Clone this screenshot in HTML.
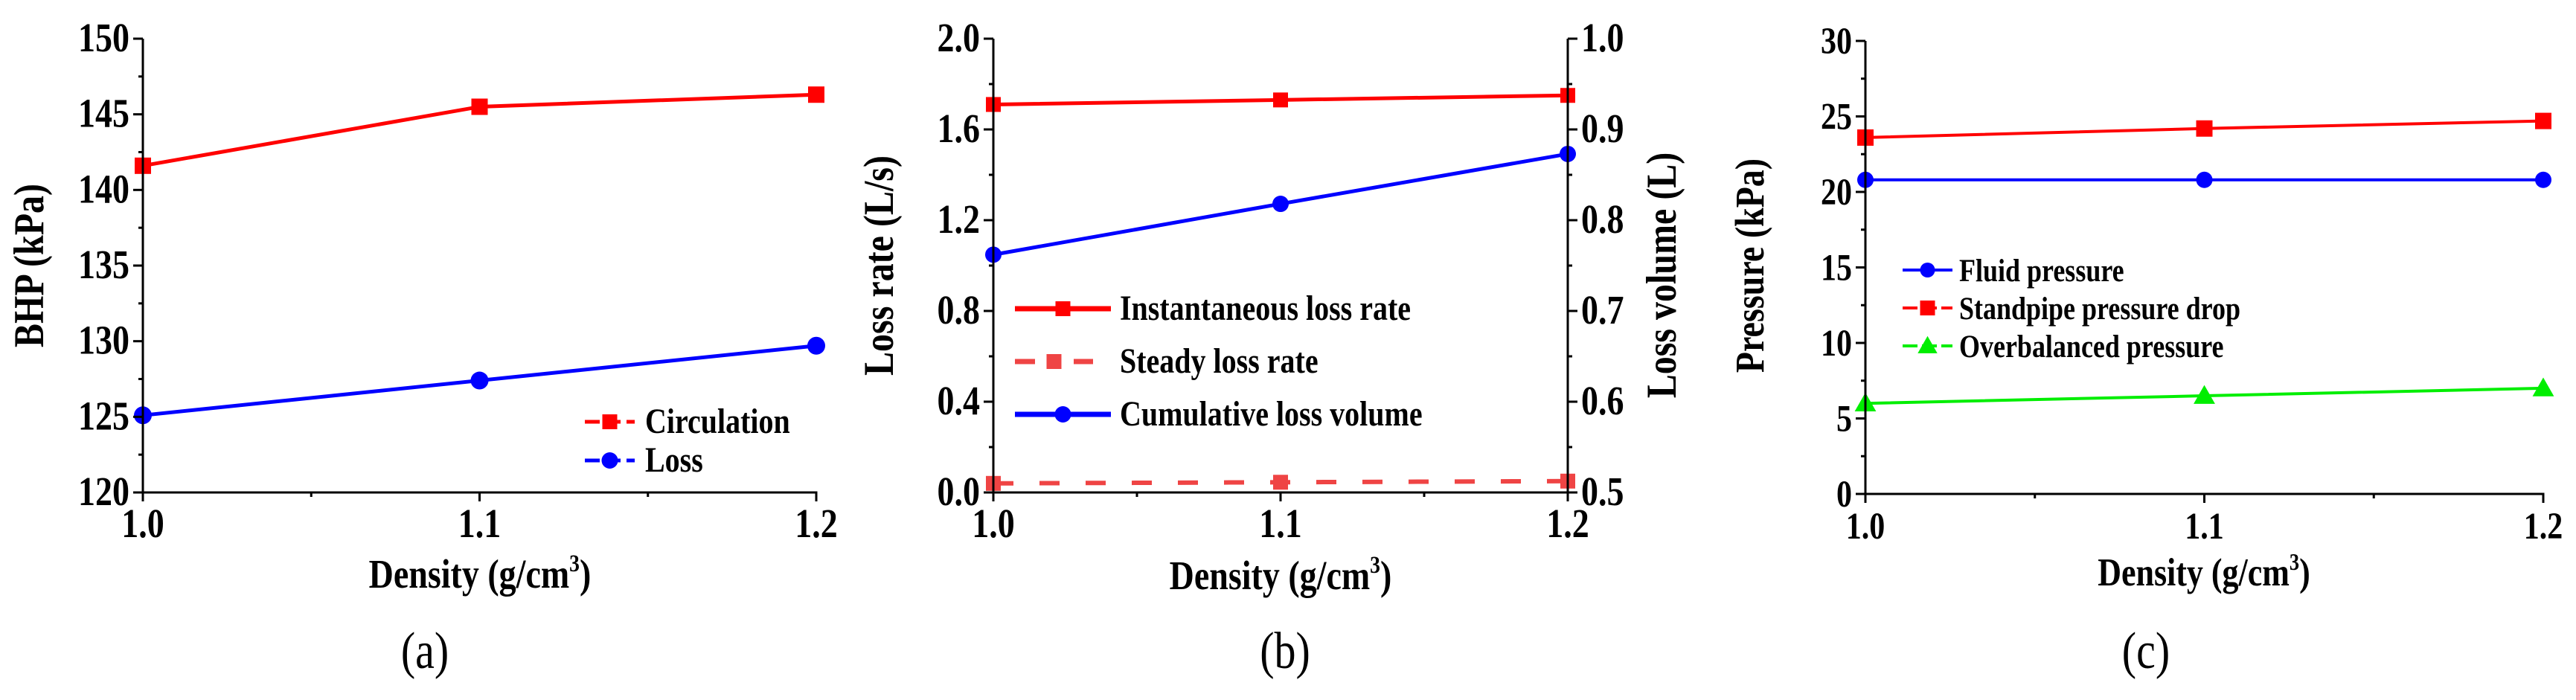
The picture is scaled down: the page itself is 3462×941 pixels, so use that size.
<!DOCTYPE html>
<html><head><meta charset="utf-8"><style>
html,body{margin:0;padding:0;background:#fff;}
svg{display:block;}
text{font-family:"Liberation Serif",serif;fill:#000;}
</style></head><body>
<svg id="fig" width="3462" height="941" viewBox="0 0 3462 941" xmlns="http://www.w3.org/2000/svg"></svg>
<script>
const xCats = [1.0, 1.1, 1.2];
const xTickLabels = ["1.0", "1.1", "1.2"];
// panel a
const circulation = [141.6, 145.5, 146.3];
const lossBHP = [125.1, 127.4, 129.7];
const aTicks = [120, 125, 130, 135, 140, 145, 150];
// panel b
const instRate = [1.71, 1.73, 1.75];
const steadyRate = [0.04, 0.045, 0.05];
const cumVolume = [0.762, 0.818, 0.873];
const bLeftTicks = [0.0, 0.4, 0.8, 1.2, 1.6, 2.0];
const bRightTicks = [0.5, 0.6, 0.7, 0.8, 0.9, 1.0];
// panel c
const fluidP = [20.8, 20.8, 20.8];
const standpipeP = [23.6, 24.2, 24.7];
const overbalP = [6.0, 6.5, 7.0];
const cTicks = [0, 5, 10, 15, 20, 25, 30];

const NS = "http://www.w3.org/2000/svg";
const svg = document.getElementById('fig');
const STRETCH = 1.2;
function mk(tag, attrs, parent, txt){
  const e = document.createElementNS(NS, tag);
  for (const k in attrs) e.setAttribute(k, attrs[k]);
  if (txt !== undefined) e.textContent = txt;
  (parent || svg).appendChild(e);
  return e;
}
function scale(d0, d1, r0, r1){ return v => r0 + (v - d0) / (d1 - d0) * (r1 - r0); }
function stretchText(t, rot){
  const x = +t.getAttribute('x'), y = +t.getAttribute('y');
  t.setAttribute('transform', `translate(${x},${y}) ${rot ? 'rotate(-90) ' : ''}scale(1,${STRETCH}) translate(${-x},${-y})`);
}
function txt(parent, attrs, s, weight){
  const t = mk('text', attrs, parent, s);
  t.setAttribute('font-weight', weight || 'bold');
  stretchText(t, false);
  return t;
}

function marker(g, type, x, y, color, size){
  let m;
  if (type === 'square') m = mk('rect', {x:x-size/2, y:y-size/2, width:size, height:size, fill:color}, g);
  else if (type === 'circle') m = mk('circle', {cx:x, cy:y, r:size/2, fill:color}, g);
  else m = mk('polygon', {points:`${x},${y-size*0.6} ${x-size*0.6},${y+size*0.45} ${x+size*0.6},${y+size*0.45}`, fill:color}, g);
  return m;
}

function series(g, name, vals, X, Y, color, type, dash, lw, msize){
  const sg = mk('g', {}, g);
  
  
  const pts = vals.map((v,i)=>`${X(xCats[i])},${Y(v)}`).join(' ');
  const l = mk('polyline', {points:pts, fill:'none', stroke:color, 'stroke-width':lw, 'stroke-dasharray':dash||'none'}, sg);
  
  
  vals.forEach((v,i)=>{
    const m = marker(sg, type, X(xCats[i]), Y(v), color, msize);
    
    
  });
}

function xAxis(g, X, yb, x0, x1, fs, aw){
  mk('line', {x1:x0-aw/2, y1:yb, x2:x1+aw/2, y2:yb, stroke:'#000','stroke-width':aw}, g);
  xCats.forEach((c,i)=>{
    const x = X(c);
    mk('line', {x1:x, y1:yb, x2:x, y2:yb+12, stroke:'#000','stroke-width':aw}, g);
    const t = txt(g, {x:x, y:yb+60, 'text-anchor':'middle','font-size':fs}, xTickLabels[i]);
    
    
    if (i < xCats.length-1){
      const xm = (x + X(xCats[i+1]))/2;
      mk('line', {x1:xm, y1:yb, x2:xm, y2:yb+6, stroke:'#000','stroke-width':aw}, g);
    }
  });
}
function yAxis(g, Y, ticks, x, yt, yb, fs, aw, right, fmt){
  mk('line', {x1:x, y1:yt, x2:x, y2:yb, stroke:'#000','stroke-width':aw}, g);
  const d = right ? 1 : -1;
  ticks.forEach((v,i)=>{
    const y = Y(v);
    mk('line', {x1:x, y1:y, x2:x+d*13, y2:y, stroke:'#000','stroke-width':aw}, g);
    const t = txt(g, {x:x+d*18, y:y+17, 'text-anchor':right?'start':'end','font-size':fs}, fmt(v));
    
    
    if (i < ticks.length-1){
      const ym = Y((v + ticks[i+1])/2);
      mk('line', {x1:x, y1:ym, x2:x+d*6, y2:ym, stroke:'#000','stroke-width':aw}, g);
    }
  });
}
function label(g, name, x, y, s, fs, rot, weight){
  const t = mk('text', {x:x, y:y, 'text-anchor':'middle','font-size':fs}, g, s);
  t.setAttribute('font-weight', weight || 'bold');
  stretchText(t, rot);
  
  
  return t;
}
function densityTitle(g, x, y, fs){
  const t = label(g, 'x-axis-title', x, y, '', fs);
  t.appendChild(document.createTextNode('Density (g/cm'));
  mk('tspan', {'font-size':fs*0.6, dy:-fs*0.4}, t, '3');
  mk('tspan', {dy:fs*0.4}, t, ')');
}
function legendEntry(g, name, x0, x1, y, color, type, dash, lw, msize, s, tx, fs){
  const lg = mk('g', {}, g);
  
  
  mk('line', {x1:x0, y1:y, x2:x1, y2:y, stroke:color, 'stroke-width':lw, 'stroke-dasharray':dash||'none'}, lg);
  marker(lg, type, (x0+x1)/2, y, color, msize);
  txt(lg, {x:tx, y:y+15, 'font-size':fs}, s);
}

// ---------- Panel A ----------
(function(){
  const g = mk('g', {});
  
  
  const X = scale(1.0, 1.2, 192, 1097);
  const Y = scale(120, 150, 662, 52);
  series(g, 'circulation-series', circulation, X, Y, '#ff0000', 'square', null, 5, 22);
  series(g, 'loss-series', lossBHP, X, Y, '#0000ff', 'circle', null, 5, 24);
  yAxis(g, Y, aTicks, 192, 52, 662, 46, 3, false, v=>String(v));
  xAxis(g, X, 662, 192, 1097, 46, 3);
  label(g, 'y-axis-title', 58, 357, 'BHP (kPa)', 48, true);
  densityTitle(g, 645, 790, 46);
  label(g, 'panel-label-a', 571, 898, '(a)', 58, false, 'normal');
  legendEntry(g, 'legend-circulation', 786, 853, 567, '#ff0000', 'square', '20,8', 5, 20, 'Circulation', 867, 40);
  legendEntry(g, 'legend-loss', 786, 853, 619, '#0000ff', 'circle', '20,8', 5, 22, 'Loss', 867, 40);
})();

// ---------- Panel B ----------
(function(){
  const g = mk('g', {});
  
  
  const X = scale(1.0, 1.2, 1335, 2107);
  const Y = scale(0, 2, 662, 52);
  const Y2 = scale(0.5, 1.0, 662, 52);
  series(g, 'instantaneous-loss-rate-series', instRate, X, Y, '#ff0000', 'square', null, 5, 20);
  series(g, 'steady-loss-rate-series', steadyRate, X, Y, '#ef4444', 'square', '27,35', 6, 20);
  series(g, 'cumulative-loss-volume-series', cumVolume, X, Y2, '#0000ff', 'circle', null, 5, 22);
  yAxis(g, Y, bLeftTicks, 1335, 52, 662, 46, 3, false, v=>v.toFixed(1));
  yAxis(g, Y2, bRightTicks, 2107, 52, 662, 46, 3, true, v=>v.toFixed(1));
  xAxis(g, X, 662, 1335, 2107, 46, 3);
  label(g, 'y-axis-title', 1200, 357, 'Loss rate (L/s)', 48, true);
  label(g, 'y2-axis-title', 2252, 370, 'Loss volume (L)', 48, true);
  densityTitle(g, 1721, 792, 46);
  label(g, 'panel-label-b', 1727, 898, '(b)', 58, false, 'normal');
  legendEntry(g, 'legend-instantaneous', 1364, 1493, 415, '#ff0000', 'square', null, 7, 20, 'Instantaneous loss rate', 1505, 40);
  legendEntry(g, 'legend-steady', 1364, 1469, 486, '#ef4444', 'square', '27,52', 7, 20, 'Steady loss rate', 1505, 40);
  legendEntry(g, 'legend-cumulative', 1364, 1493, 557, '#0000ff', 'circle', null, 7, 22, 'Cumulative loss volume', 1505, 40);
})();

// ---------- Panel C ----------
(function(){
  const g = mk('g', {});
  
  
  const X = scale(1.0, 1.2, 2507, 3418);
  const Y = scale(0, 30, 664, 55);
  series(g, 'fluid-pressure-series', fluidP, X, Y, '#0000ff', 'circle', null, 4, 22);
  series(g, 'standpipe-pressure-drop-series', standpipeP, X, Y, '#ff0000', 'square', null, 4, 22);
  series(g, 'overbalanced-pressure-series', overbalP, X, Y, '#00ee00', 'triangle', null, 4, 24);
  yAxis(g, Y, cTicks, 2507, 55, 664, 42, 3, false, v=>String(v));
  xAxis(g, X, 664, 2507, 3418, 42, 3);
  label(g, 'y-axis-title', 2370, 357, 'Pressure (kPa)', 46, true);
  densityTitle(g, 2962, 787, 44);
  label(g, 'panel-label-c', 2884, 898, '(c)', 58, false, 'normal');
  legendEntry(g, 'legend-fluid', 2557, 2624, 363, '#0000ff', 'circle', null, 4, 20, 'Fluid pressure', 2633, 36);
  legendEntry(g, 'legend-standpipe', 2557, 2624, 414, '#ff0000', 'square', '20,6', 4, 20, 'Standpipe pressure drop', 2633, 36);
  legendEntry(g, 'legend-overbalanced', 2557, 2624, 465, '#00ee00', 'triangle', '20,6', 4, 22, 'Overbalanced pressure', 2633, 36);
})();
</script>
</body></html>
